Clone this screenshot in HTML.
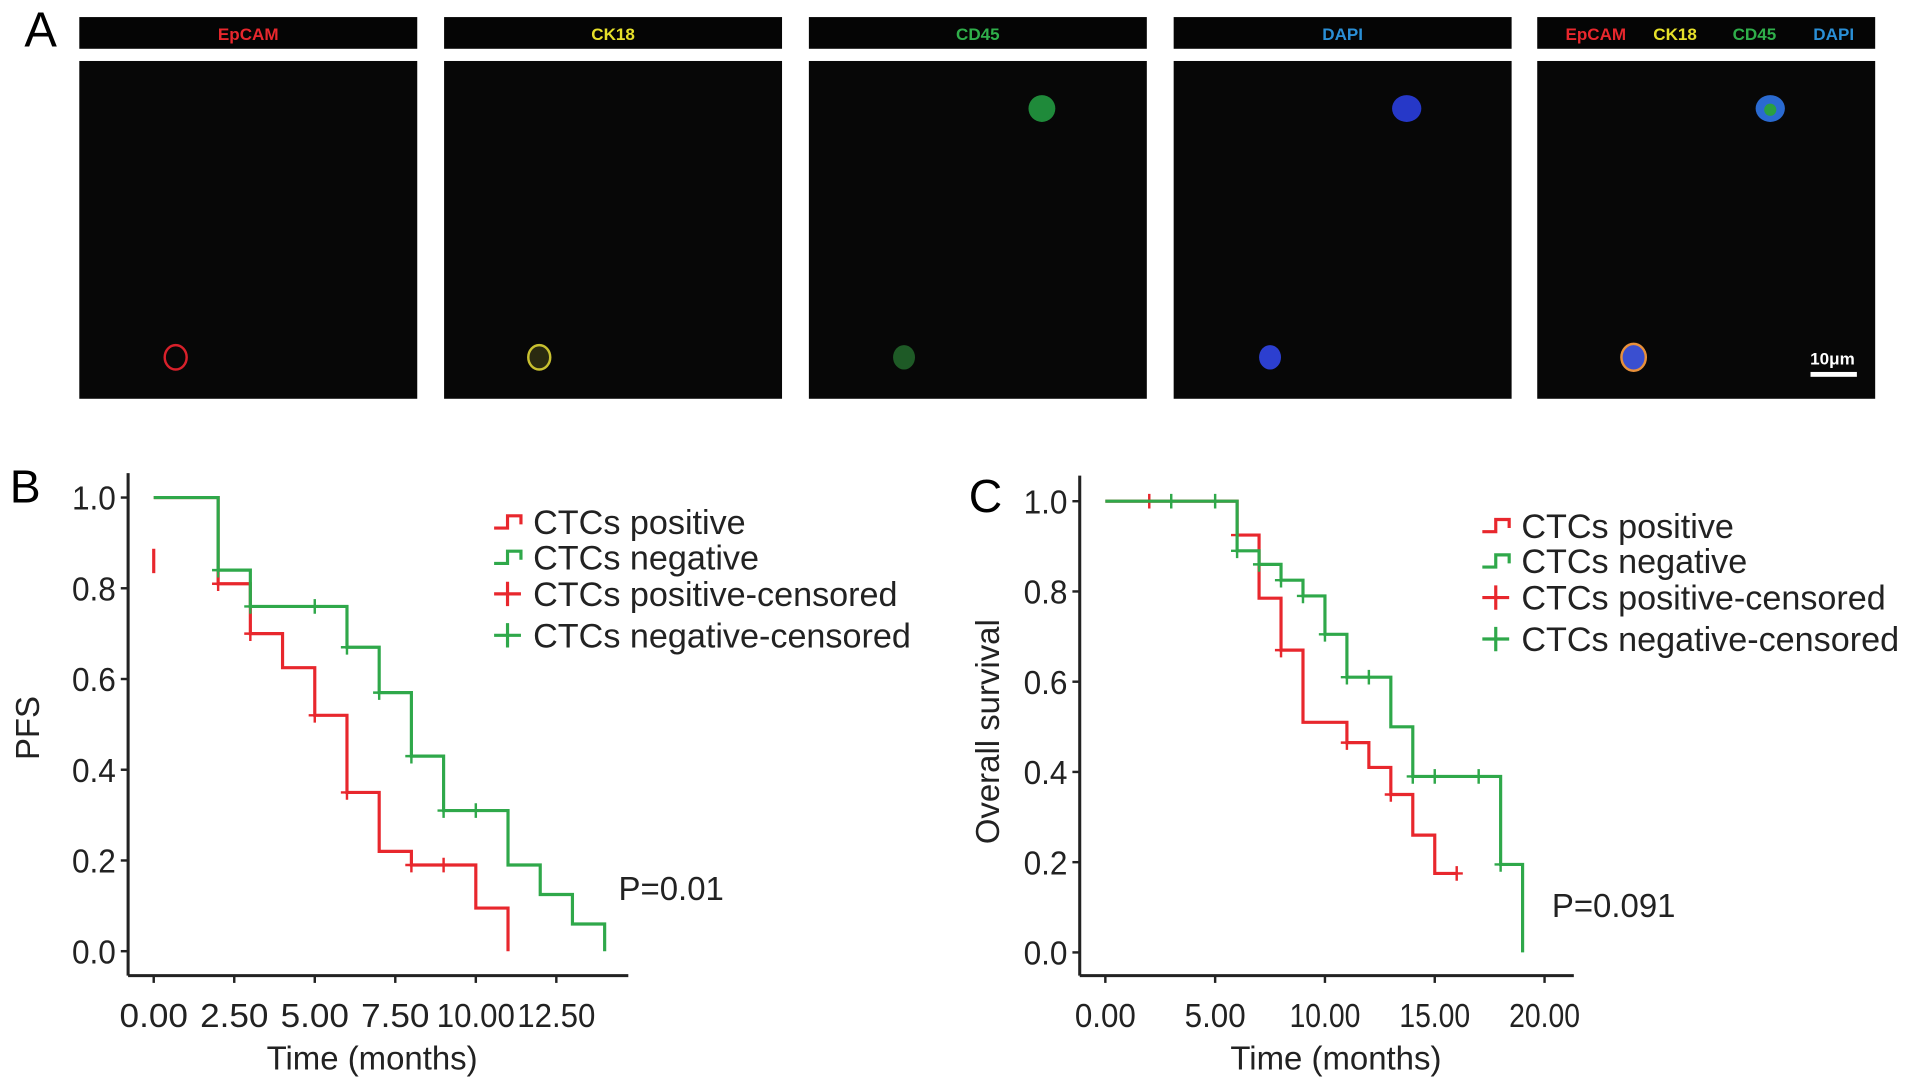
<!DOCTYPE html>
<html><head><meta charset="utf-8"><style>
html,body{margin:0;padding:0;background:#fff;}
svg{display:block;font-family:"Liberation Sans",sans-serif;}
</style></head><body>
<svg id="fig" width="1913" height="1089" viewBox="0 0 1568 893" preserveAspectRatio="none" xmlns="http://www.w3.org/2000/svg">
<text x="20" y="38" font-size="40">A</text>
<g id="panelA"></g>
<text x="8" y="412" font-size="38">B</text>
<text x="794" y="420" font-size="38">C</text>
<g id="chartB"></g>
<g id="chartC"></g>
</svg>
<script>
// Panel B data (PFS)
const bPosTimes=[0,2,3,4,5,6,7,8,10,11];
const bPosSurv=[1,0.81,0.70,0.625,0.52,0.35,0.22,0.19,0.095,0];
const bPosCensT=[2,3,5,6,8,9];
const bNegTimes=[0,2,3,6,7,8,9,11,12,13,14];
const bNegSurv=[1,0.84,0.76,0.67,0.57,0.43,0.31,0.19,0.125,0.06,0];
const bNegCensT=[2,3,5,6,7,8,9,10];
const bXTicks=[0,2.5,5,7.5,10,12.5];
const bXLabels=["0.00","2.50","5.00","7.50","10.00","12.50"];
// Panel C data (OS)
const cPosTimes=[0,6,7,8,9,11,12,13,14,15,16];
const cPosSurv=[1,0.925,0.785,0.67,0.51,0.465,0.41,0.35,0.26,0.175,0.175];
const cPosCensT=[2,6,8,11,13,16];
const cNegTimes=[0,6,7,8,9,10,11,13,14,18,19];
const cNegSurv=[1,0.89,0.86,0.825,0.79,0.705,0.61,0.50,0.39,0.195,0];
const cNegCensT=[3,5,6,7,8,9,10,11,12,14,15,17,18];
const cXTicks=[0,5,10,15,20];
const cXLabels=["0.00","5.00","10.00","15.00","20.00"];
const yTicks=[0,0.2,0.4,0.6,0.8,1.0];
const yLabels=["0.0","0.2","0.4","0.6","0.8","1.0"];

const NS="http://www.w3.org/2000/svg";
const RED="#e8272d",GREEN="#2fa84a";
function mk(tag,attrs,parent){const e=document.createElementNS(NS,tag);for(const k in attrs)e.setAttribute(k,attrs[k]);parent.appendChild(e);return e;}

// Panel A
const A=document.getElementById('panelA');
const panX=[65,364,663,962,1260];
const panW=277;
const heads=[[["EpCAM",RED]],[["CK18","#e6e02a"]],[["CD45","#2fae4a"]],[["DAPI","#2a8fd6"]],[["EpCAM",RED],["CK18","#e6e02a"],["CD45","#2fae4a"],["DAPI","#2a8fd6"]]];
panX.forEach((x,i)=>{
  const h=mk('rect',{x:x,y:14,width:panW,height:26,fill:'#050505'},A);
  
  
  const im=mk('rect',{x:x,y:50,width:panW,height:277,fill:'#070707'},A);
  
  
  const hs=heads[i];
  hs.forEach((hh,j)=>{
    const cx=hs.length===1?x+panW/2:x+48+j*65;
    const t=mk('text',{x:cx,y:33,'font-size':14,'font-weight':'bold',fill:hh[1],'text-anchor':'middle'},A);
    t.textContent=hh[0];
    
    
  });
});
mk('ellipse',{cx:144,cy:293,rx:9,ry:10,fill:'none',stroke:'#d8202a','stroke-width':2},A);
mk('ellipse',{cx:442,cy:293,rx:9,ry:10,fill:'#2a2a10',stroke:'#c8c030','stroke-width':2},A);
mk('ellipse',{cx:741,cy:293,rx:9,ry:10,fill:'#1e5a26'},A);
mk('ellipse',{cx:854,cy:89,rx:11,ry:11,fill:'#1f8a3a'},A);
mk('ellipse',{cx:1041,cy:293,rx:9,ry:10,fill:'#2c3fd0'},A);
mk('ellipse',{cx:1153,cy:89,rx:12,ry:11,fill:'#2638c8'},A);
mk('ellipse',{cx:1339,cy:293,rx:10,ry:11,fill:'#3a4fd0',stroke:'#e8903a','stroke-width':2},A);
mk('ellipse',{cx:1451,cy:89,rx:12,ry:11,fill:'#2a6ad0'},A);
mk('ellipse',{cx:1451,cy:90,rx:5,ry:5,fill:'#2aa040'},A);
const sb=mk('text',{x:1502,y:299,'font-size':14,'font-weight':'bold',fill:'#fff','text-anchor':'middle'},A);sb.textContent='10μm';


mk('rect',{x:1484,y:305,width:38,height:4,fill:'#fff'},A);

function drawKM(g,cfg){
  const X=v=>cfg.x0+v*cfg.kx;
  const Y=v=>cfg.y0-v*(cfg.y0-cfg.y1);
  mk('line',{x1:cfg.ax,y1:cfg.axTop,x2:cfg.ax,y2:cfg.axY,stroke:'#222','stroke-width':2.5},g);
  mk('line',{x1:cfg.ax,y1:cfg.axY,x2:cfg.axRight,y2:cfg.axY,stroke:'#222','stroke-width':2.5},g);
  yTicks.forEach((v,i)=>{
    mk('line',{x1:cfg.ax-6,y1:Y(v),x2:cfg.ax,y2:Y(v),stroke:'#222','stroke-width':2},g);
    const t=mk('text',{x:cfg.ax-10,y:Y(v)+10,'font-size':27,'text-anchor':'end',fill:'#222','textLength':36,'lengthAdjust':'spacingAndGlyphs'},g);
    t.textContent=yLabels[i];
    
    
  });
  cfg.xt.forEach((v,i)=>{
    mk('line',{x1:X(v),y1:cfg.axY,x2:X(v),y2:cfg.axY+6,stroke:'#222','stroke-width':2},g);
    const len=cfg.xl[i].length===4?cfg.tl4:cfg.tl5;
    const t=mk('text',{x:X(v),y:cfg.axY+42,'font-size':27,'text-anchor':'middle',fill:'#222','textLength':len,'lengthAdjust':'spacingAndGlyphs'},g);
    t.textContent=cfg.xl[i];
    
    
  });
  const xt=mk('text',{x:cfg.titleX,y:cfg.axY+77,'font-size':27,'text-anchor':'middle',fill:'#222'},g);
  xt.textContent='Time (months)';
  
  
  const yt=mk('text',{x:0,y:0,'font-size':27,'text-anchor':'middle',fill:'#222',transform:`translate(${cfg.yTitleX},${cfg.yTitleY}) rotate(-90)`},g);
  yt.textContent=cfg.yTitle;
  
  
  function series(times,surv,cens,color,name){
    let d=`M${X(times[0])},${Y(surv[0])}`;
    for(let i=1;i<times.length;i++){d+=`H${X(times[i])}V${Y(surv[i])}`;}
    const p=mk('path',{d:d,fill:'none',stroke:color,'stroke-width':2.6},g);
    
    
    cens.forEach(t=>{
      let s=surv[0];
      for(let i=0;i<times.length;i++){if(times[i]<=t)s=surv[i];}
      const c=mk('path',{d:`M${X(t)},${Y(s)-6}V${Y(s)+6}M${X(t)-5},${Y(s)}H${X(t)+5}`,stroke:color,'stroke-width':2},g);
      
      
    });
  }
  series(cfg.pt,cfg.ps,cfg.pc,RED,'ctcs-positive');
  series(cfg.nt,cfg.ns,cfg.nc,GREEN,'ctcs-negative');
  const labels=['CTCs positive','CTCs negative','CTCs positive-censored','CTCs negative-censored'];
  const cols=[RED,GREEN,RED,GREEN];
  labels.forEach((l,i)=>{
    const y=cfg.legY[i];const lx=cfg.legX;
    const sym=i<2?`M${lx},${y+5}H${lx+11}V${y-5}H${lx+22}V${y+2}`:`M${lx+11},${y-10}V${y+10}M${lx},${y}H${lx+22}`;
    const s=mk('path',{d:sym,fill:'none',stroke:cols[i],'stroke-width':2.6},g);
    
    
    const t=mk('text',{x:lx+32,y:y+10,'font-size':28,fill:'#222'},g);
    t.textContent=l;
    
    
  });
  const pv=mk('text',{x:cfg.pX,y:cfg.pY,'font-size':27,fill:'#222'},g);
  pv.textContent=cfg.p;
  
  
}
const gB=document.getElementById('chartB');
mk('line',{x1:126,y1:470,x2:126,y2:450,stroke:RED,'stroke-width':2.6},gB);
drawKM(gB,{x0:126,kx:26.4,y0:780,y1:408,ax:105,axTop:388,axY:800,axRight:515,xt:bXTicks,xl:bXLabels,tl4:56,tl5:64,titleX:305,yTitleX:32,yTitleY:597,yTitle:'PFS',
  pt:bPosTimes,ps:bPosSurv,pc:bPosCensT,nt:bNegTimes,ns:bNegSurv,nc:bNegCensT,legX:405,legY:[428,457,487,521],p:'P=0.01',pX:507,pY:738});
const gC=document.getElementById('chartC');
drawKM(gC,{x0:906,kx:18,y0:781,y1:411,ax:885,axTop:390,axY:800,axRight:1290,xt:cXTicks,xl:cXLabels,tl4:50,tl5:58,titleX:1095,yTitleX:819,yTitleY:600,yTitle:'Overall survival',
  pt:cPosTimes,ps:cPosSurv,pc:cPosCensT,nt:cNegTimes,ns:cNegSurv,nc:cNegCensT,legX:1215,legY:[431,460,490,524],p:'P=0.091',pX:1272,pY:752});
</script>
</body></html>
